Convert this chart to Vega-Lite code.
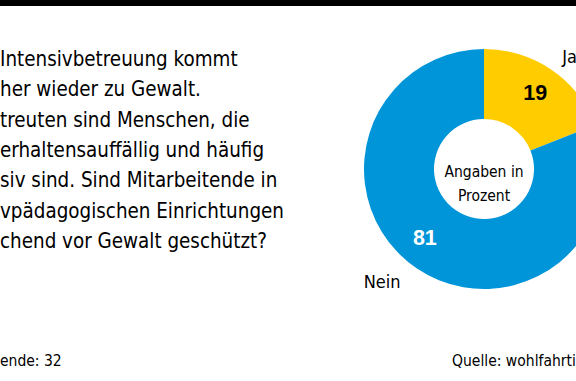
{
  "$schema": "https://vega.github.io/schema/vega-lite/v6.json",
  "width": 576,
  "height": 375,
  "autosize": {"type": "none"},
  "padding": {"left": 0, "top": 6, "right": 0, "bottom": 0},
  "background": "#000000",
  "view": {"fill": "#ffffff", "stroke": null},
  "datasets": {
    "antworten": [
      {"antwort": "Ja", "prozent": 19},
      {"antwort": "Nein", "prozent": 81}
    ],
    "frage": [
      {"text": "\u00a0Intensivbetreuung kommt\nher wieder zu Gewalt.\ntreuten sind Menschen, die\nerhaltensauffällig und häufig\nsiv sind. Sind Mitarbeitende in\nvpädagogischen Einrichtungen\nchend vor Gewalt geschützt?"}
    ],
    "hinweis": [{"text": "Angaben in\nProzent"}],
    "fuss_links": [{"text": "ende: 32"}],
    "fuss_rechts": [{"text": "Quelle: wohlfahrti"}]
  },
  "layer": [
    {
      "data": {"name": "antworten"},
      "mark": {"type": "arc", "innerRadius": 50, "outerRadius": 120},
      "encoding": {
        "x": {"datum": 484, "type": "quantitative", "scale": {"domain": [0, 576], "nice": false, "zero": false}, "axis": null},
        "y": {"datum": 169, "type": "quantitative", "scale": {"domain": [6, 381], "reverse": true, "nice": false, "zero": false}, "axis": null},
        "theta": {"field": "prozent", "type": "quantitative", "stack": true},
        "order": {"field": "antwort", "sort": "ascending"},
        "color": {"field": "antwort", "type": "nominal", "scale": {"domain": ["Ja", "Nein"], "range": ["#ffcc00", "#0095d8"]}, "legend": null}
      }
    },
    {
      "data": {"name": "antworten"},
      "mark": {"type": "text", "radius": 91, "font": "Liberation Sans", "fontWeight": "bold", "fontSize": 21.5, "align": "center", "baseline": "middle", "color": "#000000"},
      "encoding": {
        "x": {"datum": 484, "type": "quantitative", "axis": null},
        "y": {"datum": 169, "type": "quantitative", "axis": null},
        "theta": {"field": "prozent", "type": "quantitative", "stack": true},
        "order": {"field": "antwort", "sort": "ascending"},
        "text": {"condition": {"test": "datum.antwort === 'Ja'", "field": "prozent", "type": "quantitative"}, "value": ""}
      }
    },
    {
      "data": {"name": "antworten"},
      "mark": {"type": "text", "radius": 91, "dx": -8, "dy": -5, "font": "Liberation Sans", "fontWeight": "bold", "fontSize": 21.5, "align": "center", "baseline": "middle", "color": "#ffffff"},
      "encoding": {
        "x": {"datum": 484, "type": "quantitative", "axis": null},
        "y": {"datum": 169, "type": "quantitative", "axis": null},
        "theta": {"field": "prozent", "type": "quantitative", "stack": true},
        "order": {"field": "antwort", "sort": "ascending"},
        "text": {"condition": {"test": "datum.antwort === 'Nein'", "field": "prozent", "type": "quantitative"}, "value": ""}
      }
    },
    {
      "data": {"name": "antworten"},
      "mark": {"type": "text", "radius": 150, "dx": -6, "dy": 18, "font": "DejaVu Sans Condensed", "fontSize": 18, "align": "left", "baseline": "alphabetic", "color": "#000000"},
      "encoding": {
        "x": {"datum": 484, "type": "quantitative", "axis": null},
        "y": {"datum": 169, "type": "quantitative", "axis": null},
        "theta": {"field": "prozent", "type": "quantitative", "stack": true},
        "order": {"field": "antwort", "sort": "ascending"},
        "text": {"condition": {"test": "datum.antwort === 'Ja'", "field": "antwort", "type": "nominal"}, "value": ""}
      }
    },
    {
      "data": {"name": "antworten"},
      "mark": {"type": "text", "radius": 150, "dx": -36, "dy": -5, "font": "DejaVu Sans Condensed", "fontSize": 18, "align": "left", "baseline": "alphabetic", "color": "#000000"},
      "encoding": {
        "x": {"datum": 484, "type": "quantitative", "axis": null},
        "y": {"datum": 169, "type": "quantitative", "axis": null},
        "theta": {"field": "prozent", "type": "quantitative", "stack": true},
        "order": {"field": "antwort", "sort": "ascending"},
        "text": {"condition": {"test": "datum.antwort === 'Nein'", "field": "antwort", "type": "nominal"}, "value": ""}
      }
    },
    {
      "data": {"name": "hinweis"},
      "mark": {"type": "text", "font": "DejaVu Sans Condensed", "fontSize": 15.5, "lineHeight": 24, "lineBreak": "\n", "align": "center", "baseline": "middle", "color": "#000000"},
      "encoding": {
        "x": {"datum": 484, "type": "quantitative", "axis": null},
        "y": {"datum": 172, "type": "quantitative", "axis": null},
        "text": {"field": "text", "type": "nominal"}
      }
    },
    {
      "data": {"name": "frage"},
      "mark": {"type": "text", "font": "DejaVu Sans Condensed", "fontSize": 20.4, "lineHeight": 30.3, "lineBreak": "\n", "align": "left", "baseline": "alphabetic", "color": "#000000"},
      "encoding": {
        "x": {"datum": 0, "type": "quantitative", "axis": null},
        "y": {"datum": 66, "type": "quantitative", "axis": null},
        "text": {"field": "text", "type": "nominal"}
      }
    },
    {
      "data": {"name": "fuss_links"},
      "mark": {"type": "text", "font": "DejaVu Sans Condensed", "fontSize": 15.5, "align": "left", "baseline": "alphabetic", "color": "#000000"},
      "encoding": {
        "x": {"datum": 0, "type": "quantitative", "axis": null},
        "y": {"datum": 366, "type": "quantitative", "axis": null},
        "text": {"field": "text", "type": "nominal"}
      }
    },
    {
      "data": {"name": "fuss_rechts"},
      "mark": {"type": "text", "font": "DejaVu Sans Condensed", "fontSize": 15.5, "align": "left", "baseline": "alphabetic", "color": "#000000"},
      "encoding": {
        "x": {"datum": 452, "type": "quantitative", "axis": null},
        "y": {"datum": 366, "type": "quantitative", "axis": null},
        "text": {"field": "text", "type": "nominal"}
      }
    }
  ]
}
